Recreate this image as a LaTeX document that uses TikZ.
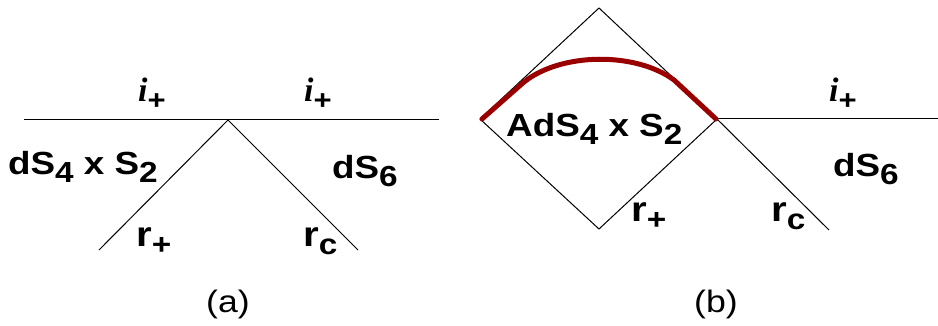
\documentclass[tikz,border=0pt]{standalone}
\usepackage{fontspec}
\setmainfont[FakeStretch=1.15]{Liberation Sans}
\newfontfamily\ifont{Liberation Serif}
\definecolor{curvered}{RGB}{155,0,0}
\newcommand{\lsub}[1]{\raisebox{-8pt}{\fontsize{29}{29}\selectfont\bfseries #1}}
\newcommand{\iplus}{{\ifont\bfseries\itshape\fontsize{34}{34}\selectfont i}\raisebox{-8pt}{\fontsize{27}{27}\selectfont\bfseries +}}
\tikzset{
  lab/.style={anchor=base west, inner sep=0pt, font=\fontsize{32}{32}\selectfont\bfseries},
  rlab/.style={anchor=base west, inner sep=0pt, font=\fontsize{35}{35}\selectfont\bfseries},
  ilab/.style={anchor=base, inner sep=0pt},
  caplab/.style={anchor=base, inner sep=0pt, font=\fontsize{31}{31}\selectfont},
  thin line/.style={line width=1pt, black},
  redcurve/.style={line width=5pt, curvered, line cap=round, line join=round}
}
\begin{document}
\begin{tikzpicture}[x=1pt, y=-1pt]
\path[use as bounding box] (0,0) rectangle (938,326);
% panel (a)
\coordinate (aL) at (24,120);
\coordinate (aR) at (439,120);
\coordinate (aA) at (228,120);
\coordinate (aBL) at (99,250);
\coordinate (aBR) at (358,250);
\draw[thin line] (aL) -- (aR);
\draw[thin line] (aBL) -- (aA) -- (aBR);
\node[ilab] (ai1) at (152,102) {\iplus};
\node[ilab] (ai2) at (318,102) {\iplus};
\node[lab] (adS4) at (8,175) {dS\lsub{4} x S\lsub{2}};
\node[lab] (adS6) at (332,179) {dS\lsub{6}};
\node[rlab] (arp) at (136,247) {r\lsub{+}};
\node[rlab] (arc) at (303,247) {r\lsub{c}};
\node[caplab] (capa) at (228,312) {(a)};
% panel (b)
\coordinate (bT) at (599,8);
\coordinate (bL) at (480,119);
\coordinate (bR) at (717,119);
\coordinate (bB) at (599,229);
\coordinate (bE) at (938,119);
\coordinate (bRC) at (829,230);
\draw[thin line] (bT) -- (bR) -- (bB) -- (bL) -- cycle;
\draw[thin line] (bR) -- (bE);
\draw[thin line] (bR) -- (bRC);
\draw[redcurve] (482,119) -- (524,82) .. controls (562,52) and (636,52) .. (674,80) -- (716,119);
\node[ilab] (bi) at (843,102) {\iplus};
\node[lab] (bAdS) at (506,137) {AdS\lsub{4} x S\lsub{2}};
\node[lab] (bdS6) at (833,177) {dS\lsub{6}};
\node[rlab] (brp) at (631,222) {r\lsub{+}};
\node[rlab] (brc) at (771,222) {r\lsub{c}};
\node[caplab] (capb) at (716,312) {(b)};
\end{tikzpicture}
\end{document}
